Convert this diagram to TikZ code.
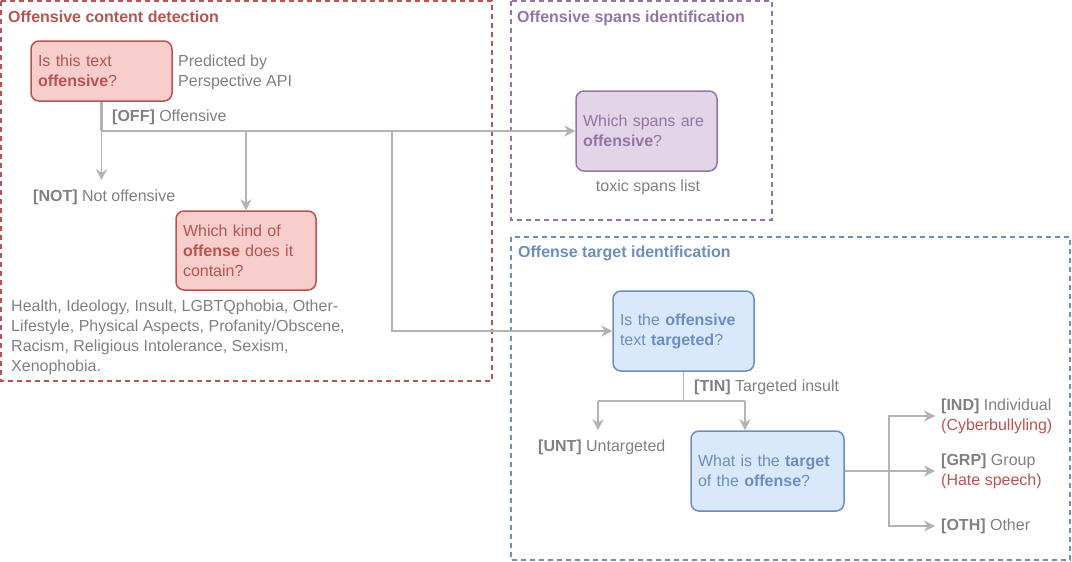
\documentclass[tikz,border=0pt]{standalone}
\usepackage{fontspec}
\setmainfont{Liberation Sans}
\usetikzlibrary{arrows.meta}
\definecolor{redline}{HTML}{B85450}
\definecolor{redfill}{HTML}{F8CECC}
\definecolor{purpline}{HTML}{9673A6}
\definecolor{purpfill}{HTML}{E1D5E7}
\definecolor{blueline}{HTML}{6C8EBF}
\definecolor{bluefill}{HTML}{DAE8FC}
\definecolor{txtgray}{HTML}{808080}
\definecolor{linegray}{HTML}{B3B3B3}

\begin{document}
\begin{tikzpicture}[x=1pt, y=-1pt,
    every node/.style={font=\fontsize{16}{20}\selectfont, text=txtgray, inner sep=0pt},
    frame/.style={dash pattern=on 5pt off 4pt, line width=1.5pt},
    ttl/.style={anchor=base west, font=\fontsize{16}{20}\selectfont\bfseries},
    question/.style={draw, rounded corners=8pt, line width=1.5pt, align=left, inner xsep=7pt},
    lbl/.style={anchor=base west, align=left},
    conn/.style={draw=linegray, line width=1.5pt},
    arr/.style={conn, -{Stealth[length=11pt, width=11pt, inset=3.5pt]}}]
    \useasboundingbox (0, 0) rectangle (1072, 562);

    % frames
    \draw[frame, redline](1, 1) rectangle (492, 381);
    \draw[frame, purpline](511, 1) rectangle (772, 220);
    \draw[frame, blueline](511, 237) rectangle (1070, 560);
    \node[ttl, text=redline] (ttlred) at (8, 22) {Offensive content detection};
    \node[ttl, text=purpline] (ttlpurp) at (517, 22) {Offensive spans identification};
    \node[ttl, text=blueline] (ttlblue) at (518, 257) {Offense target identification};

    % questions
    \node[question, draw=redline, fill=redfill, text=redline, text width=127pt, minimum height=60pt]
        (isoff) at (101.5, 71) {Is this text\\\textbf{offensive}?};
    \node[question, draw=redline, fill=redfill, text=redline, text width=126pt, minimum height=79pt]
        (kind) at (246, 250.5) {Which kind of\\\textbf{offense} does it\\contain?};
    \node[question, draw=purpline, fill=purpfill, text=purpline, text width=127pt, minimum height=80pt]
        (spans) at (646.5, 131) {Which spans are\\\textbf{offensive}?};
    \node[question, draw=blueline, fill=bluefill, text=blueline, text width=127pt, minimum height=80pt]
        (targeted) at (683.5, 331) {Is the \textbf{offensive}\\text \textbf{targeted}?};
    \node[question, draw=blueline, fill=bluefill, text=blueline, text width=139pt, minimum height=80pt]
        (where) at (767.5, 471) {What is the \textbf{target}\\of the \textbf{offense}?};

    % labels (base = last line)
    \node[lbl] (persp) at (178, 86) {Predicted by\\Perspective API};
    \node[lbl] (off) at (112, 121) {\textbf{[OFF]} Offensive};
    \node[lbl] (not) at (33, 201) {\textbf{[NOT]} Not offensive};
    \node[lbl] (cats) at (11, 371) {Health, Ideology, Insult, LGBTQphobia, Other-\\Lifestyle, Physical Aspects, Profanity/Obscene,\\Racism, Religious Intolerance, Sexism,\\Xenophobia.};
    \node[anchor=base] (toxic) at (648, 191) {toxic spans list};
    \node[lbl] (tin) at (694, 391) {\textbf{[TIN]} Targeted insult};
    \node[lbl] (unt) at (538, 451) {\textbf{[UNT]} Untargeted};
    \node[anchor=west, align=left] (ind) at (941, 416) {\textbf{[IND]} Individual\\\textcolor{redline}{(Cyberbullyling)}};
    \node[anchor=west, align=left] (grp) at (941, 471) {\textbf{[GRP]} Group\\\textcolor{redline}{(Hate speech)}};
    \node[anchor=west] (oth) at (941, 526) {\textbf{[OTH]} Other};

    % connectors
    \coordinate (offsplit) at (isoff.south |- spans.west);
    \coordinate (spansplit) at (392, 131);
    \coordinate (tinsplit) at (targeted.south |- 0, 401);
    \coordinate (untsplit) at (598, 401);
    \coordinate (wheresplit) at (745, 401);
    \coordinate (grpsplit) at (889, 471);
    \draw[conn, line width=2.5pt](isoff.south)--(offsplit);
    \draw[arr](offsplit)--(spans.west);
    \draw[arr, shorten >=9pt](offsplit)--(offsplit |- not.north);
    \draw[arr](offsplit -| kind.north)--(kind.north);
    \draw[arr](spansplit) |- (targeted.west);
    \draw[conn](targeted.south)--(tinsplit);
    \draw[conn](untsplit)--(wheresplit);
    \draw[arr, shorten >=9pt](untsplit)--(untsplit |- unt.north);
    \draw[arr](wheresplit)--(wheresplit |- where.north);
    \draw[conn, line width=2.5pt](where.east)--(grpsplit);
    \draw[arr, shorten >=6pt](grpsplit) |- (ind.west);
    \draw[arr, shorten >=6pt](grpsplit)--(grp.west);
    \draw[arr, shorten >=6pt](grpsplit) |- (oth.west);
\end{tikzpicture}
\end{document}
